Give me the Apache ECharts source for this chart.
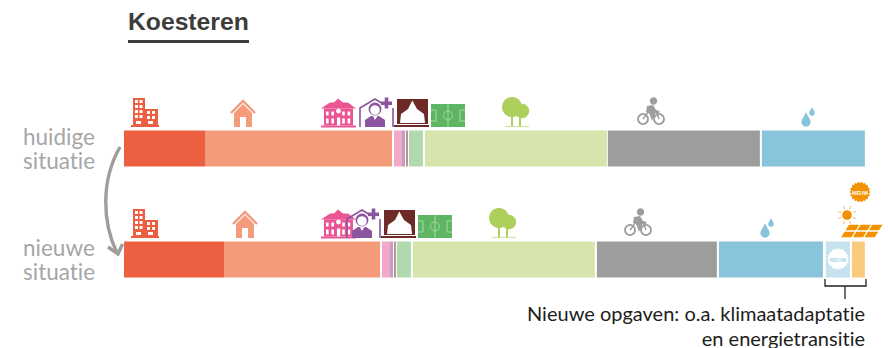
<!DOCTYPE html>
<html><head><meta charset="utf-8">
<style>html,body{margin:0;padding:0;background:#fff}#c{width:888px;height:348px}text{font-variant-ligatures:none}</style>
<script src="https://cdn.jsdelivr.net/npm/echarts@6/dist/echarts.min.js"></script>
</head><body><div id="c"></div>
<script>
// share of the total width, [huidige situatie, nieuwe situatie]
const rows = ['huidige\nsituatie', 'nieuwe\nsituatie'];
const bedrijven = [10.93, 13.50];
const wonen = [25.24, 21.05];
const onderwijs = [1.08, 1.08];
const zorg = [0.40, 0.40];
const cultuur = [0.27, 0.27];
const sport = [1.89, 1.89];
const groen = [24.56, 24.56];
const mobiliteit = [20.51, 16.19];
const water = [13.90, 14.04];
const klimaat = [0, 3.24];
const energie = [0, 1.75];
// white space following each block
const gapWonen = [0.27, 0.27];
const gapZorg = [0.13, 0.13];
const gapCultuur = [0.13, 0.13];
const gapSport = [0.27, 0.27];
const gapGroen = [0.13, 0.27];
const gapMobiliteit = [0.27, 0.27];
const gapWater = [0, 0.40];
const gapKlimaat = [0, 0.27];

const C = {red:'#EC5F40',salmon:'#F39B7B',pink:'#EC5594',purple:'#8A549E',theatre:'#6E2A26',field:'#5EB562',
  tree:'#ADCF5B',grey:'#9D9D9C',blue:'#88C4DB',orange:'#F39200',text:'#A6A6A6',dark:'#3C3C3B'};
const segs = [
  ['Bedrijven',bedrijven,C.red],['Wonen',wonen,C.salmon],['g1',gapWonen],
  ['Onderwijs',onderwijs,'#F4A8C8'],['Zorg',zorg,'#BE9FC7'],['g2',gapZorg],
  ['Cultuur',cultuur,'#B98F8F'],['g3',gapCultuur],['Sport',sport,'#B0D9B0'],['g4',gapSport],
  ['Groen',groen,'#D6E5AE'],['g5',gapGroen],['Mobiliteit',mobiliteit,'#9D9D9C'],['g6',gapMobiliteit],
  ['Water',water,'#88C4DB'],['g7',gapWater],['Klimaatadaptatie',klimaat,'#C6E2EE'],['g8',gapKlimaat],
  ['Energietransitie',energie,'#FBCB7D']
];
const series = segs.map(s => ({
  type:'bar', name:s[0], stack:'a', data:s[1], barWidth:36, silent:true,
  itemStyle:{color:s[2]||'rgba(0,0,0,0)'}
}));

// drawing helpers for pictograms
const g = [];
const R=(x,y,w,h,f)=>g.push({type:'rect',shape:{x,y,width:w,height:h},style:{fill:f}});
const P=(pts,f)=>g.push({type:'polygon',shape:{points:pts},style:{fill:f}});
const O=(cx,cy,r,f)=>g.push({type:'circle',shape:{cx,cy,r},style:{fill:f}});
const RO=(cx,cy,r,s,w)=>g.push({type:'circle',shape:{cx,cy,r},style:{fill:'none',stroke:s,lineWidth:w}});
const L=(pts,s,w)=>g.push({type:'polyline',shape:{points:pts},style:{fill:'none',stroke:s,lineWidth:w}});
const T=(x,y,t,o)=>g.push({type:'text',x,y,style:Object.assign({text:t},o)});

function building(x,y){
  const c=C.red;
  R(x+2,y,12,27,c);R(x+14,y+11,13,16,c);R(x,y+27,28,2,c);
  for(let r=0;r<4;r++)for(let k=0;k<2;k++)R(x+4+k*4.5,y+2+r*5,3,3,'#fff');
  for(let r=0;r<2;r++)for(let k=0;k<2;k++)R(x+16+k*5,y+13+r*5,3,3,'#fff');
  R(x+5,y+23,5,3,'#fff');R(x+17,y+23,5,3,'#fff');
}
function house(x,y){
  const c=C.salmon;
  L([[x-12,y+13],[x,y+1],[x+12,y+13]],c,2.4);
  P([[x-9,y+13],[x,y+4],[x+9,y+13],[x+9,y+27],[x+3,y+27],[x+3,y+17],[x-3,y+17],[x-3,y+27],[x-9,y+27]],c);
}
function school(x,y){
  const c=C.pink;
  P([[x+9,y+4],[x+13,y+4],[x+17,y],[x+22,y+4],[x+27,y+4],[x+35,y+10],[x,y+10]],c);
  R(x+3,y+10,29,17,c);R(x,y+27,35,2,c);
  for(let k=0;k<5;k++){ if(k==2)continue; R(x+5+k*5.4,y+13,2.6,4,'#fff');R(x+5+k*5.4,y+20,2.6,5,'#fff');}
  O(x+17.5,y+12.5,2.4,'#fff');R(x+16,y+19,3.2,8,'#fff');
}
function doctor(x,y){
  const c=C.purple;
  L([[x+1,y+29],[x+1,y+10],[x+16,y+1],[x+24,y+6]],c,1.6);
  L([[x+34,y+10],[x+34,y+29]],c,1.6);
  R(x+22,y+3.5,11,3.6,c);R(x+25.7,y-0.5,3.6,11,c);
  O(x+16,y+11,6.4,c);O(x+16,y+12,4.8,'#fff');
  P([[x+6,y+29],[x+6,y+22],[x+12,y+18],[x+20,y+18],[x+26,y+22],[x+26,y+29]],c);
  P([[x+14,y+18],[x+18.5,y+18],[x+16,y+22]],'#fff');
}
function theatre(x,y){
  const c=C.theatre;
  R(x+3,y+1,31,25,c);
  P([[x+18.3,y+2.5],[x+14,y+11],[x+7,y+16],[x+6,y+25],[x+31,y+25],[x+30,y+16],[x+23,y+11]],'#fff');
  R(x,y+27,35,2,c);
}
function field(x,y){
  const c=C.field,l='#A9D8A9';
  R(x,y,34,23,c);
  L([[x+17,y],[x+17,y+23]],l,1);RO(x+17,y+11.5,4.5,l,1);
  L([[x,y+6],[x+5,y+6],[x+5,y+17],[x,y+17]],l,1);
  L([[x+34,y+6],[x+29,y+6],[x+29,y+17],[x+34,y+17]],l,1);
}
function tree(x,y){
  const c=C.tree;
  O(x+10,y+10,10,c);O(x+20,y+14,7.2,c);
  R(x+9,y+16,2,14,c);R(x+17,y+18,2,12,c);
  L([[x+3,y+29.5],[x+27,y+29.5]],'#CFE2A0',1.2);
}
function bike(x,y){
  const c=C.grey;
  RO(x+6,y+21,5,c,1.8);RO(x+22,y+21,5,c,1.8);
  O(x+16.5,y+3,3.7,c);
  L([[x+6,y+21],[x+12,y+13],[x+19,y+13],[x+22,y+21]],c,1.4);
  L([[x+12,y+13],[x+15,y+21],[x+19,y+13]],c,1.4);
  P([[x+10,y+8],[x+16,y+7],[x+19,y+12],[x+22.5,y+13],[x+22,y+15],[x+17,y+15],[x+17.5,y+20],[x+15,y+20],[x+14,y+16],[x+9,y+14]],c);
}
function drop(cx,cy,r,f){
  O(cx,cy,r,f);P([[cx-r*.92,cy-r*.4],[cx,cy-r*2.1],[cx+r*.92,cy-r*.4]],f);
}
function drops(x,y){drop(x,y+11,4.6,C.blue);drop(x+6,y+2,2.8,C.blue);}
function burst(cx,cy,r,f,n){
  const pts=[];for(let i=0;i<n*2;i++){const a=i*Math.PI/n,q=i%2?r-1.4:r;pts.push([cx+q*Math.cos(a),cy+q*Math.sin(a)]);}
  P(pts,f);
}
function sun(cx,cy){
  O(cx,cy,4.8,C.orange);
  for(let i=0;i<8;i++){const a=i*Math.PI/4+Math.PI/8;
    L([[cx+6.5*Math.cos(a),cy+6.5*Math.sin(a)],[cx+9.5*Math.cos(a),cy+9.5*Math.sin(a)]],'#F6B45A',1);}
}
function panels(x,y){
  const h=14,w=35,sk=8.7;
  const at=(u,v)=>[x+sk*(1-v)+u*w,y+v*h];
  for(let r=0;r<2;r++)for(let k=0;k<3;k++){
    const u0=k/3+.02,u1=(k+1)/3-.02,v0=r/2+.05,v1=(r+1)/2-.05;
    P([at(u0,v0),at(u1,v0),at(u1,v1),at(u0,v1)],C.orange);
  }
}
const NW={fontFamily:'"Liberation Sans"',fontWeight:'bold',fontSize:5,align:'center',verticalAlign:'middle'};

// title rule
R(128,40,121,3,C.dark);

// pictograms, row 1 and row 2
const dy=111;
building(131,98);building(131,98+dy);
house(243,100);house(245,100+dy);
school(321,98.5);school(321,98.5+dy);
doctor(359,98);doctor(346,98+dy);
theatre(394,98);theatre(381,98+dy);
field(431,104);field(418,104+dy);
tree(502,97);tree(489,97+dy);
bike(637,98);bike(624,98+dy);
drops(806,111);drops(765,111+dy);
// new items
burst(860,192,10.5,C.orange,18);
T(860,192.5,'NIEUW',Object.assign({fill:'#fff'},NW));
sun(847,215);panels(840,224);
burst(838,259,11,'#fff',18);
T(838,259.5,'NIEUW',Object.assign({fill:'#A9D3E6'},NW));

// curved arrow
g.push({type:'bezierCurve',shape:{x1:120,y1:147,cpx1:101,cpy1:180,cpx2:102,cpy2:222,x2:117,y2:253},
  style:{fill:'none',stroke:C.grey,lineWidth:3.4}});
L([[108,247],[118,254],[122.5,244]],C.grey,3.4);

// bracket and note
L([[825,279],[825,286],[866,286],[866,279]],'#222',1.3);
L([[845,286],[845,299]],'#222',1.3);
const noteStyle={fontFamily:'Lato',fontSize:20,lineHeight:18,fill:'#1d1d1b',align:'right',verticalAlign:'middle'};
T(865,313,'Nieuwe opgaven: o.a. klimaatadaptatie',noteStyle);
T(865,337.5,'en energietransitie',noteStyle);
g.forEach(e=>{e.z=10;});

const labelFont={fontFamily:'Lato',fontSize:22.5,lineHeight:24,color:C.text,align:'left'};
const chart = echarts.init(document.getElementById('c'),null,{renderer:'svg'});
chart.setOption({
  animation:false,
  title:{text:'Koesteren',left:128,top:9,padding:0,textStyle:{fontFamily:'"Liberation Sans"',fontWeight:'bold',fontSize:24.7,color:C.dark}},
  grid:{left:124,top:93,width:741,height:222,containLabel:false,outerBoundsMode:'none'},
  xAxis:{type:'value',min:0,max:100,show:false},
  yAxis:{type:'category',inverse:true,
    data:[{value:rows[0],textStyle:Object.assign({padding:[9,0,0,0]},labelFont)},{value:rows[1],textStyle:labelFont}],
    axisLine:{show:false},axisTick:{show:false},
    axisLabel:Object.assign({margin:101},labelFont)},
  series,
  graphic:{elements:g}
});
</script></body></html>
